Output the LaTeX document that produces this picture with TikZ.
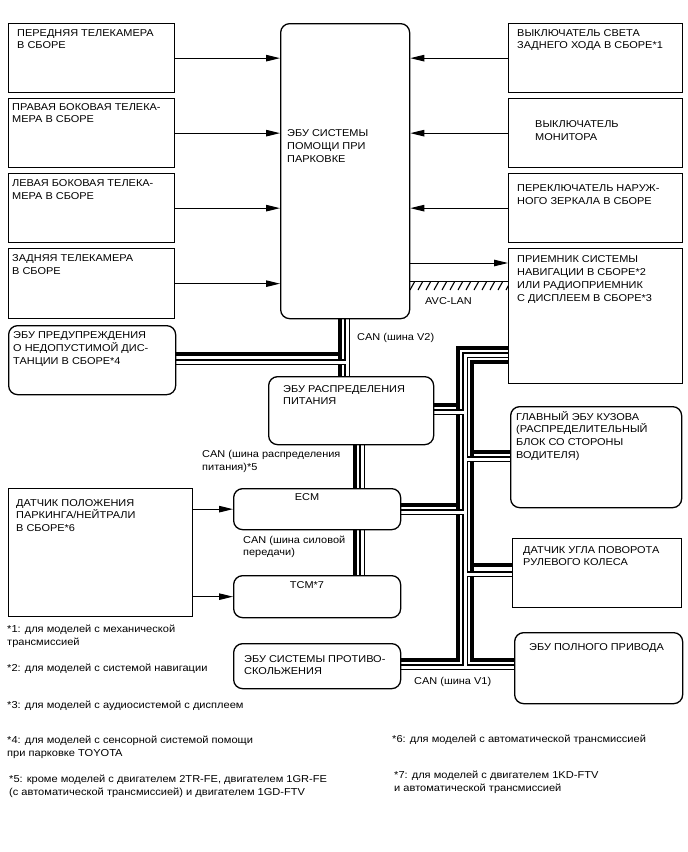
\documentclass[tikz,border=0pt]{standalone}
\usepackage{fontspec}
\setmainfont[FakeStretch=1.1]{Liberation Sans}
\usetikzlibrary{arrows.meta}
\pgfdeclarelayer{bg}
\pgfsetlayers{bg,main}
\newcommand\mlines[1]{\begin{tabular}[t]{@{}l@{}}#1\end{tabular}}
\begin{document}
\begin{tikzpicture}[x=1bp,y=-1bp,
  sbox/.style={draw, line width=1.3bp, rectangle, inner sep=0pt, anchor=north west},
  rbox/.style={sbox, rounded corners=9bp},
  arr/.style={line width=1bp, -{Triangle[length=14bp,width=6.5bp]}},
  lbl/.style={anchor=base west, inner sep=0pt, font=\fontsize{10}{13}\selectfont},
  fn/.style={anchor=base west, inner sep=0pt, font=\fontsize{10.1}{13.5}\selectfont},
  thk/.style={line width=3.2bp},
  holout/.style={line width=5.8bp},
  holin/.style={line width=3bp, white},
]
\useasboundingbox (0,0) rectangle (688,852);

% ---- boxes ----
\node[sbox, minimum width=166bp, minimum height=69bp] (L1) at (8,23) {};
\node[sbox, minimum width=166bp, minimum height=69bp] (L2) at (8,98) {};
\node[sbox, minimum width=166bp, minimum height=69bp] (L3) at (8,173) {};
\node[sbox, minimum width=166bp, minimum height=70bp] (L4) at (8,248) {};
\node[rbox, minimum width=129bp, minimum height=295bp] (P) at (280,23) {};
\node[sbox, minimum width=174bp, minimum height=69bp] (R1) at (508,23) {};
\node[sbox, minimum width=174bp, minimum height=69bp] (R2) at (508,98) {};
\node[sbox, minimum width=174bp, minimum height=69bp] (R3) at (508,173) {};
\node[sbox, minimum width=174bp, minimum height=135bp] (R4) at (508,248) {};
\node[rbox, minimum width=167bp, minimum height=69bp] (D) at (8,325) {};
\node[rbox, minimum width=165bp, minimum height=68bp] (PDU) at (268,376) {};
\node[rbox, minimum width=171bp, minimum height=101bp] (MB) at (510,406) {};
\node[sbox, minimum width=184bp, minimum height=128bp] (N) at (8,488) {};
\node[rbox, minimum width=167bp, minimum height=41bp] (ECM) at (233,488) {};
\node[sbox, minimum width=169bp, minimum height=69bp] (S) at (512,538) {};
\node[rbox, minimum width=167bp, minimum height=42bp] (TCM) at (233,575) {};
\node[rbox, minimum width=167bp, minimum height=45bp] (A) at (233,643) {};
\node[rbox, minimum width=168bp, minimum height=71bp] (W) at (514,632) {};

% ---- box texts ----
\node[lbl] (tL1) at (17,36) {\mlines{ПЕРЕДНЯЯ ТЕЛЕКАМЕРА\\В СБОРЕ}};
\node[lbl] (tL2) at (12,110) {\mlines{ПРАВАЯ БОКОВАЯ ТЕЛЕКА-\\МЕРА В СБОРЕ}};
\node[lbl] (tL3) at (12,186.5) {\mlines{ЛЕВАЯ БОКОВАЯ ТЕЛЕКА-\\МЕРА В СБОРЕ}};
\node[lbl] (tL4) at (12,261.5) {\mlines{ЗАДНЯЯ ТЕЛЕКАМЕРА\\В СБОРЕ}};
\node[lbl] (tP) at (287,136.5) {\mlines{ЭБУ СИСТЕМЫ\\ПОМОЩИ ПРИ\\ПАРКОВКЕ}};
\node[lbl] (tR1) at (517,36) {\mlines{ВЫКЛЮЧАТЕЛЬ СВЕТА\\ЗАДНЕГО ХОДА В СБОРЕ*1}};
\node[lbl] (tR2) at (535,127.5) {\mlines{ВЫКЛЮЧАТЕЛЬ\\МОНИТОРА}};
\node[lbl] (tR3) at (517,191.5) {\mlines{ПЕРЕКЛЮЧАТЕЛЬ НАРУЖ-\\НОГО ЗЕРКАЛА В СБОРЕ}};
\node[lbl] (tR4) at (517,262.5) {\mlines{ПРИЕМНИК СИСТЕМЫ\\НАВИГАЦИИ В СБОРЕ*2\\ИЛИ РАДИОПРИЕМНИК\\С ДИСПЛЕЕМ В СБОРЕ*3}};
\node[lbl] (tD) at (13,338.5) {\mlines{ЭБУ ПРЕДУПРЕЖДЕНИЯ\\О НЕДОПУСТИМОЙ ДИС-\\ТАНЦИИ В СБОРЕ*4}};
\node[lbl] (tPDU) at (283,392) {\mlines{ЭБУ РАСПРЕДЕЛЕНИЯ\\ПИТАНИЯ}};
\node[lbl] (tMB) at (516,420) {\mlines{ГЛАВНЫЙ ЭБУ КУЗОВА\\(РАСПРЕДЕЛИТЕЛЬНЫЙ\\БЛОК СО СТОРОНЫ\\ВОДИТЕЛЯ)}};
\node[lbl] (tN) at (16,506) {\mlines{ДАТЧИК ПОЛОЖЕНИЯ\\ПАРКИНГА/НЕЙТРАЛИ\\В СБОРЕ*6}};
\node[lbl, anchor=base] (tECM) at (307,500.5) {ECM};
\node[lbl] (tS) at (523,553) {\mlines{ДАТЧИК УГЛА ПОВОРОТА\\РУЛЕВОГО КОЛЕСА}};
\node[lbl, anchor=base] (tTCM) at (307,588.5) {TCM*7};
\node[lbl] (tA) at (244,662) {\mlines{ЭБУ СИСТЕМЫ ПРОТИВО-\\СКОЛЬЖЕНИЯ}};
\node[lbl] (tW) at (529,650.5) {ЭБУ ПОЛНОГО ПРИВОДА};

% ---- bus labels ----
\node[lbl] (cV2) at (357,340.5) {CAN (шина V2)};
\node[lbl] (cAVC) at (425,304) {AVC-LAN};
\node[lbl] (cPD) at (202,457.5) {\mlines{CAN (шина распределения\\питания)*5}};
\node[lbl] (cPT) at (243,543) {\mlines{CAN (шина силовой\\передачи)}};
\node[lbl] (cV1) at (414,684.5) {CAN (шина V1)};

% ---- arrows ----
\draw[arr] (L1.east) -- (L1.east -| P.west);
\draw[arr] (L2.east) -- (L2.east -| P.west);
\draw[arr] (L3.east) -- (L3.east -| P.west);
\draw[arr] (L4.east) -- (L4.east -| P.west);
\draw[arr] (R1.west) -- (R1.west -| P.east);
\draw[arr] (R2.west) -- (R2.west -| P.east);
\draw[arr] (R3.west) -- (R3.west -| P.east);
\draw[arr] (P.east |- 0,263) -- (R4.west |- 0,263);
\draw[arr] (N.east |- ECM.west) -- (ECM.west);
\draw[arr] (N.east |- TCM.west) -- (TCM.west);

% ---- AVC-LAN ----
\draw[line width=1bp] (P.east |- 0,281) -- (R4.west |- 0,281);
\begin{scope}
\clip (409,281) rectangle (508,290);
\foreach \i in {0,...,12} \draw[line width=1.1bp] (410+8*\i,290) -- (415+8*\i,281);
\end{scope}

% ---- CAN buses ----
\begin{pgfonlayer}{bg}
\fill[white] (0,0) rectangle (688,852);
\draw[thk] (340,0 |- P.south) -- (340,0 |- PDU.north);
\draw[thk] (D.east |- 0,354) -- (340,354);
\draw[thk] (355,0 |- PDU.south) -- (355,0 |- ECM.north);
\draw[thk] (355,0 |- ECM.south) -- (355,0 |- TCM.north);
\draw[thk] (R4.west |- 0,348) -- (458,348) -- (458,660) -- (A.east |- 0,660);
\draw[thk] (PDU.east |- 0,405) -- (458,405);
\draw[thk] (ECM.east |- 0,505) -- (458,505);
\draw[thk] (R4.west |- 0,362) -- (472,362) -- (472,660) -- (W.west |- 0,660);
\draw[thk] (472,452) -- (MB.west |- 0,452);
\draw[thk] (472,565) -- (S.west |- 0,565);
\foreach \s in {holout,holin}{
  \draw[\s] (347,0 |- P.south) -- (347,0 |- PDU.north);
  \draw[\s] (D.east |- 0,362) -- (347,362);
  \draw[\s] (362,0 |- PDU.south) -- (362,0 |- ECM.north);
  \draw[\s] (362,0 |- ECM.south) -- (362,0 |- TCM.north);
  \draw[\s] (R4.west |- 0,355) -- (465,355) -- (465,667);
  \draw[\s] (A.east |- 0,667) -- (W.west |- 0,667);
  \draw[\s] (PDU.east |- 0,412) -- (465,412);
  \draw[\s] (465,459) -- (MB.west |- 0,459);
  \draw[\s] (ECM.east |- 0,512) -- (465,512);
  \draw[\s] (465,574) -- (S.west |- 0,574);
}
\end{pgfonlayer}

% ---- footnotes ----
\node[fn] (f1) at (7,632.5) {\mlines{*1: для моделей с механической\\трансмиссией}};
\node[fn] (f2) at (7,671) {*2: для моделей с системой навигации};
\node[fn] (f3) at (7,708.5) {*3: для моделей с аудиосистемой с дисплеем};
\node[fn] (f4) at (7,743.5) {\mlines{*4: для моделей с сенсорной системой помощи\\при парковке TOYOTA}};
\node[fn] (f5) at (9,782) {\mlines{*5: кроме моделей с двигателем 2TR-FE, двигателем 1GR-FE\\(с автоматической трансмиссией) и двигателем 1GD-FTV}};
\node[fn] (f6) at (392,742.5) {*6: для моделей с автоматической трансмиссией};
\node[fn] (f7) at (394,778) {\mlines{*7: для моделей с двигателем 1KD-FTV\\и автоматической трансмиссией}};
\end{tikzpicture}
\end{document}
